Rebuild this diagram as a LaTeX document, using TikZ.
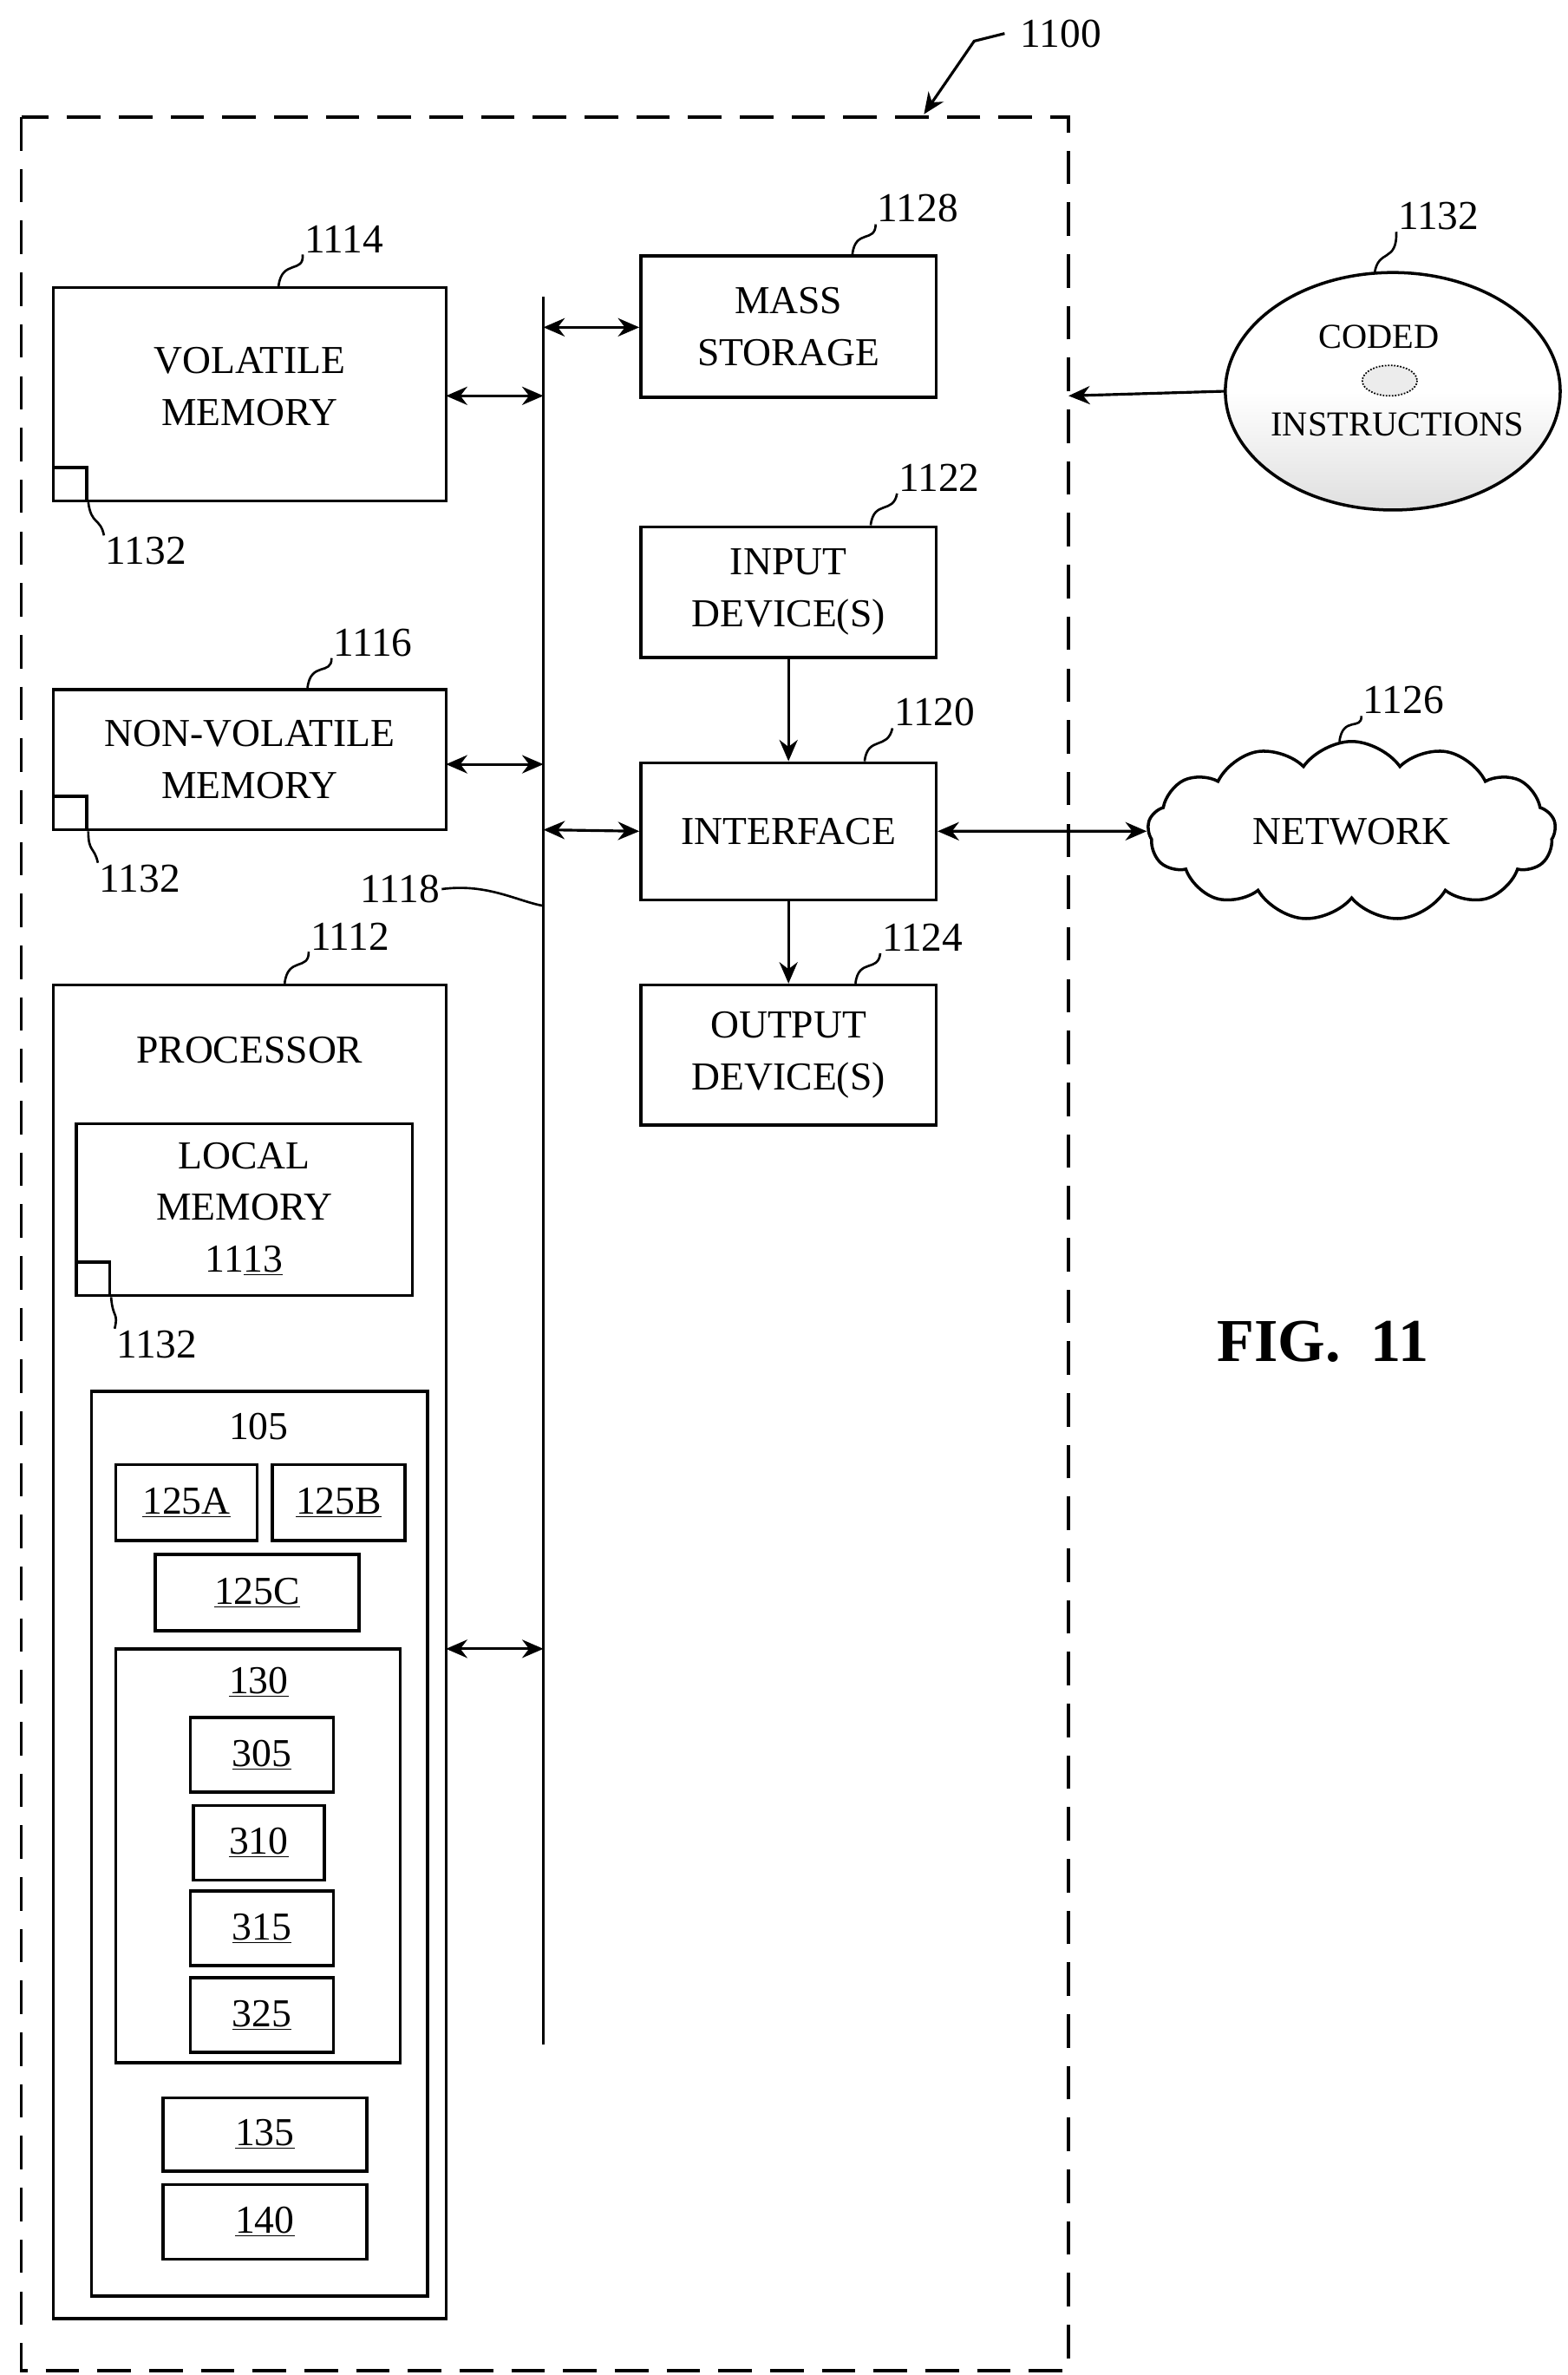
\documentclass[tikz,border=0pt]{standalone}
\usepackage{fontspec}
\setmainfont{Liberation Serif}
\usetikzlibrary{shapes.symbols,arrows.meta,shapes.geometric}
\begin{document}
\begin{tikzpicture}[x=1pt,y=-1pt,
  box/.style={draw,line width=2pt,inner sep=0pt,align=center,font=\fontsize{26}{34}\selectfont},
  lab/.style={font=\fontsize{27}{30}\selectfont,inner sep=1pt},
  arr/.style={line width=1.8pt,-{Stealth[length=14pt,width=12pt]}},
  darr/.style={line width=1.8pt,{Stealth[length=14pt,width=12pt]}-{Stealth[length=14pt,width=12pt]}},
  lead/.style={line width=1.5pt}]
\useasboundingbox (0,0) rectangle (1030,1560);
\draw[line width=2pt,dash pattern=on 22pt off 12pt] (14,77) rectangle (702,1557);
\node[lab] (l1100) at (697,22) {1100};
\coordinate (c1100) at (607,75);
\draw[arr] (660,22) -- (640,27) -- (c1100);
% volatile
\node[box,minimum width=258pt,minimum height=140pt] (vol) at (164,259) {};
\node[box,draw=none] at (164,254) {VOLATILE\\MEMORY};
\node[box,minimum width=22pt,minimum height=22pt] (sq1) at (46,318) {};
\node[lab] (l1132a) at (96,362) {1132};
\draw[lead] (sq1.south east) .. controls (60,345) and (66,340) .. (l1132a.north west);
\node[lab] (l1114) at (226,157) {1114};
\draw[lead] (183,188) .. controls (185,170) and (200,180) .. (l1114.south west);
% non-volatile
\node[box,minimum width=258pt,minimum height=92pt] (nvol) at (164,499) {};
\node[box,draw=none] at (164,499) {NON-VOLATILE\\MEMORY};
\node[box,minimum width=22pt,minimum height=22pt] (sq2) at (46,534) {};
\node[lab] (l1132b) at (92,577) {1132};
\draw[lead] (sq2.south east) .. controls (58,560) and (62,556) .. (l1132b.north west);
\node[lab] (l1116) at (245,422) {1116};
\draw[lead] (202,452) .. controls (204,434) and (218,444) .. (l1116.south west);
% processor
\node[box,minimum width=258pt,minimum height=876pt] (proc) at (164,1085) {};
\node[box,draw=none] at (164,690) {PROCESSOR};
\node[lab] (l1112) at (230,615) {1112};
\draw[lead] (187,646) .. controls (189,628) and (203,638) .. (l1112.south west);
\node[box,minimum width=221pt,minimum height=113pt] (lm) at (160.5,794.5) {};
\node[box,draw=none] at (160.5,794) {LOCAL\\MEMORY\\11\underline{13}};
\node[box,minimum width=22pt,minimum height=22pt] (sq3) at (61,840) {};
\node[lab] (l1132c) at (103,883) {1132};
\draw[lead] (sq3.south east) .. controls (74,866) and (78,862) .. (l1132c.north west);
\node[box,minimum width=221pt,minimum height=594pt] (b105) at (170.5,1211) {};
\node[box,draw=none] at (170,937) {105};
\node[box,minimum width=93pt,minimum height=50pt] (a) at (122.5,987) {\underline{125A}};
\node[box,minimum width=87pt,minimum height=50pt] (b) at (222.5,987) {\underline{125B}};
\node[box,minimum width=134pt,minimum height=50pt] (c) at (169,1046) {\underline{125C}};
\node[box,minimum width=187pt,minimum height=272pt] (b130) at (169.5,1219) {};
\node[box,draw=none] at (170,1105) {\underline{130}};
\node[box,minimum width=94pt,minimum height=49pt] (n305) at (172,1152.5) {\underline{305}};
\node[box,minimum width=86pt,minimum height=49pt] (n310) at (170,1210.5) {\underline{310}};
\node[box,minimum width=94pt,minimum height=49pt] (n315) at (172,1266.5) {\underline{315}};
\node[box,minimum width=94pt,minimum height=49pt] (n325) at (172,1323.5) {\underline{325}};
\node[box,minimum width=134pt,minimum height=48pt] (n135) at (174,1402) {\underline{135}};
\node[box,minimum width=134pt,minimum height=49pt] (n140) at (174,1459.5) {\underline{140}};
% bus
\coordinate (bt) at (357,195); \coordinate (bb) at (357,1343);
\draw[line width=2pt] (bt) -- (bb);
\node[lab] (l1118) at (263,584) {1118};
\draw[lead] (l1118.east) .. controls (320,580) and (340,592) .. (357,595);
\draw[darr] (293,260) -- (357,260);
\draw[darr] (293,502) -- (357,502);
\draw[darr] (293,1083) -- (357,1083);
% right column
\node[box,minimum width=194pt,minimum height=93pt] (ms) at (518,214.5) {MASS\\STORAGE};
\node[lab] (l1128) at (603,137) {1128};
\node[box,minimum width=194pt,minimum height=86pt] (in) at (518,389) {INPUT\\DEVICE(S)};
\node[lab] (l1122) at (617,314) {1122};
\node[box,minimum width=194pt,minimum height=90pt] (if) at (518,546) {INTERFACE};
\node[lab] (l1120) at (614,468) {1120};
\node[box,minimum width=194pt,minimum height=92pt] (out) at (518,693) {OUTPUT\\DEVICE(S)};
\node[lab] (l1124) at (606,616) {1124};
\draw[lead] (560,167) .. controls (562,150) and (575,160) .. (l1128.south west);
\draw[lead] (572,345) .. controls (574,328) and (587,338) .. (l1122.south west);
\draw[lead] (568,500) .. controls (570,483) and (583,493) .. (l1120.south west);
\draw[lead] (562,646) .. controls (564,629) and (577,639) .. (l1124.south west);
\draw[darr] (357,215) -- (ms.west |- 0,215);
\draw[darr] (357,545) -- (if.west);
\draw[arr] (in) -- (if);
\draw[arr] (if) -- (out);
% network
\node[cloud,draw,line width=2pt,cloud puffs=13,cloud puff arc=110,aspect=2.4,minimum width=268pt,minimum height=118pt,inner sep=0pt,font=\fontsize{26}{30}\selectfont] (net) at (888,546) {NETWORK};
\node[lab] (l1126) at (922,460) {1126};
\draw[lead] (880,487) .. controls (882,470) and (895,480) .. (l1126.south west);
\draw[darr] (if.east) -- (net.west);
% coded instructions disc
\node[ellipse,draw,line width=2pt,minimum width=220pt,minimum height=156pt,top color=white,bottom color=gray!25,middle color=white] (disc) at (915,257) {};
\draw[densely dotted,line width=1pt,fill=gray!15] (913,250) ellipse (18 and 10);
\node[font=\fontsize{23}{26}\selectfont] at (906,221) {CODED};
\node[font=\fontsize{23}{26}\selectfont] at (918,279) {INSTRUCTIONS};
\node[lab] (l1132d) at (945,142) {1132};
\draw[lead] (903,180) .. controls (905,163) and (918,173) .. (l1132d.south west);
\coordinate (dbox) at (702,260);
\draw[arr] (disc.west) -- (dbox);
\node[font=\bfseries\fontsize{40}{44}\selectfont] (fig) at (869,881) {FIG.\ \ 11};
\end{tikzpicture}
\end{document}
